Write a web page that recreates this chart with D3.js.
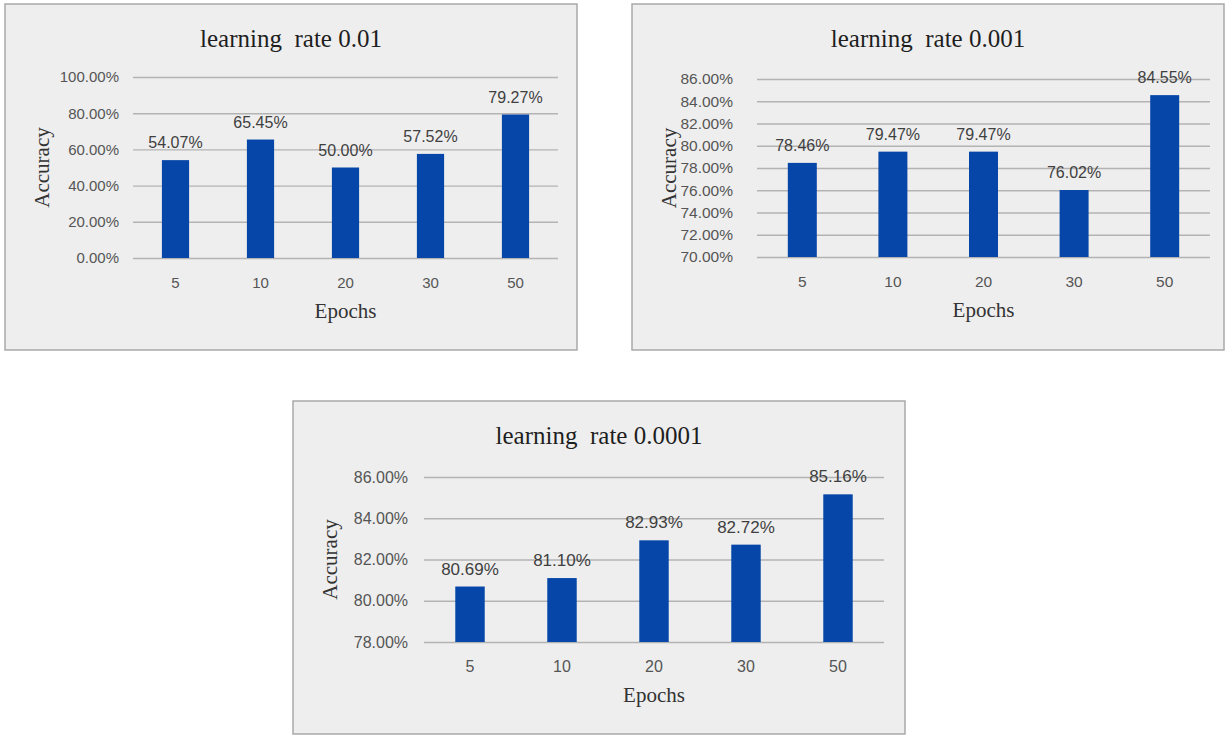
<!DOCTYPE html>
<html>
<head>
<meta charset="utf-8">
<script src="https://cdn.jsdelivr.net/npm/d3@7/dist/d3.min.js"></script>
<style>
  html, body { margin: 0; padding: 0; background: #ffffff; }
  svg { display: block; }
</style>
</head>
<body>
<svg id="chart" width="1226" height="735"></svg>
<script>
// Epoch counts shared by all three panels
const epochs = ["5", "10", "20", "30", "50"];

// Accuracy (%) per epoch count for each learning rate
const accLr001 = [54.07, 65.45, 50.00, 57.52, 79.27];
const accLr0001 = [78.46, 79.47, 79.47, 76.02, 84.55];
const accLr00001 = [80.69, 81.10, 82.93, 82.72, 85.16];

// Y-axis tick values (%) per panel
const ticksLr001 = [0, 20, 40, 60, 80, 100];
const ticksLr0001 = [70, 72, 74, 76, 78, 80, 82, 84, 86];
const ticksLr00001 = [78, 80, 82, 84, 86];

// Panel titles and axis titles
const titles = ["learning  rate 0.01", "learning  rate 0.001", "learning  rate 0.0001"];
const xTitle = "Epochs";
const yTitle = "Accuracy";

const svg = d3.select("#chart");

const BAR = "#0646a8";
const GRID = "#b3b3b3";
const BG = "#eeeeee";
const FRAME = "#a9a9a9";
const SANS = "'Liberation Sans', Arial, sans-serif";
const SERIF = "'Liberation Serif', 'Times New Roman', serif";

function drawPanel(p) {
  const g = svg.append("g");

  // panel frame
  g.append("rect")
    .attr("x", p.box[0]).attr("y", p.box[1])
    .attr("width", p.box[2] - p.box[0]).attr("height", p.box[3] - p.box[1])
    .attr("fill", BG).attr("stroke", FRAME).attr("stroke-width", 1.5);

  const x = d3.scaleBand()
    .domain(epochs)
    .range([p.plot[0], p.plot[2]])
    .paddingInner(0.68)
    .paddingOuter(0.34);

  const y = d3.scaleLinear()
    .domain([p.ticks[0], p.ticks[p.ticks.length - 1]])
    .range([p.plot[3], p.plot[1]]);

  // horizontal gridlines with percentage labels
  const yAxis = g.append("g")
    .attr("transform", `translate(${p.plot[0]},0)`)
    .call(d3.axisLeft(y)
      .tickValues(p.ticks)
      .tickSize(-(p.plot[2] - p.plot[0]))
      .tickPadding(p.plot[0] - p.labelRight)
      .tickFormat(d => d.toFixed(2) + "%"));
  yAxis.select(".domain").remove();
  yAxis.selectAll(".tick line").attr("stroke", GRID).attr("stroke-width", 1.4);
  yAxis.selectAll(".tick text")
    .attr("fill", "#555555")
    .style("font-family", SANS)
    .style("font-size", p.tickSize + "px");

  // bars
  g.append("g").selectAll("rect")
    .data(p.values)
    .join("rect")
    .attr("x", (d, i) => x(epochs[i]))
    .attr("y", d => y(d))
    .attr("width", x.bandwidth())
    .attr("height", d => y(p.ticks[0]) - y(d))
    .attr("fill", BAR);

  // value labels above bars
  g.append("g").selectAll("text")
    .data(p.values)
    .join("text")
    .attr("x", (d, i) => x(epochs[i]) + x.bandwidth() / 2)
    .attr("y", d => y(d) - 12)
    .attr("text-anchor", "middle")
    .attr("fill", "#3f3f3f")
    .style("font-family", SANS)
    .style("font-size", p.labelSize + "px")
    .text(d => d.toFixed(2) + "%");

  // category axis
  const xAxis = g.append("g")
    .attr("transform", `translate(0,${p.plot[3]})`)
    .call(d3.axisBottom(x).tickSize(0).tickPadding(19));
  xAxis.select(".domain").remove();
  xAxis.selectAll(".tick text")
    .attr("fill", "#555555")
    .style("font-family", SANS)
    .style("font-size", p.tickSize + "px");

  // title
  g.append("text")
    .attr("x", (p.box[0] + p.box[2]) / 2)
    .attr("y", p.box[1] + 43)
    .attr("text-anchor", "middle")
    .attr("fill", "#1e1e1e")
    .style("font-family", SERIF)
    .style("font-size", "25px")
    .style("white-space", "pre")
    .text(p.title);

  // axis titles
  g.append("text")
    .attr("x", (p.plot[0] + p.plot[2]) / 2)
    .attr("y", p.plot[3] + 60)
    .attr("text-anchor", "middle")
    .attr("fill", "#333333")
    .style("font-family", SERIF)
    .style("font-size", "21px")
    .text(xTitle);

  g.append("text")
    .attr("transform", `translate(${p.box[0] + 44},${(p.plot[1] + p.plot[3]) / 2}) rotate(-90)`)
    .attr("text-anchor", "middle")
    .attr("fill", "#333333")
    .style("font-family", SERIF)
    .style("font-size", "21px")
    .text(yTitle);
}

drawPanel({
  title: titles[0], values: accLr001, ticks: ticksLr001,
  box: [5, 4, 577, 350], plot: [133, 77, 558, 258], labelRight: 119,
  tickSize: 15, labelSize: 16
});
drawPanel({
  title: titles[1], values: accLr0001, ticks: ticksLr0001,
  box: [632, 4, 1224, 350], plot: [757, 79, 1210, 257], labelRight: 733,
  tickSize: 15.5, labelSize: 16
});
drawPanel({
  title: titles[2], values: accLr00001, ticks: ticksLr00001,
  box: [293, 401, 905, 734], plot: [424, 477, 884, 642], labelRight: 408,
  tickSize: 16, labelSize: 17
});
</script>
</body>
</html>
